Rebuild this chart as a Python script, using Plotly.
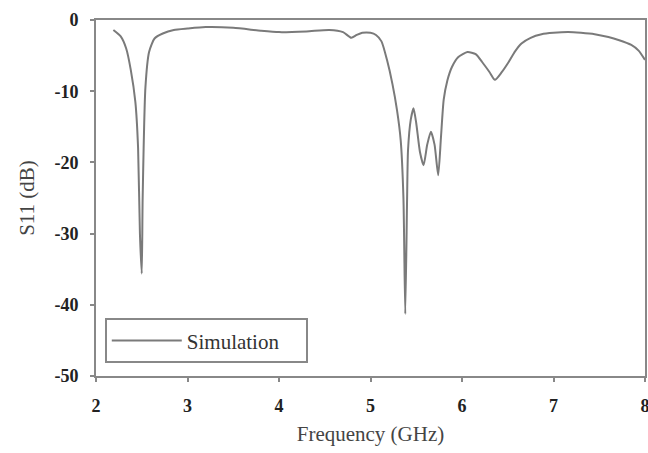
import plotly.graph_objects as go

freq_ghz = [2.19, 2.27, 2.33, 2.38, 2.43, 2.46, 2.48, 2.50, 2.51, 2.54, 2.58, 2.64, 2.73, 2.85,
            3.0, 3.2, 3.5, 3.8, 4.0, 4.3, 4.55, 4.70, 4.79, 4.85, 4.91, 5.0, 5.06, 5.12,
            5.18, 5.24, 5.29, 5.33, 5.36, 5.38, 5.40, 5.41, 5.44, 5.47, 5.50, 5.54, 5.58,
            5.62, 5.66, 5.70, 5.74, 5.77, 5.80, 5.84, 5.89, 5.96, 6.06, 6.15, 6.22, 6.30,
            6.36, 6.43, 6.51, 6.58, 6.65, 6.75, 6.87, 7.0, 7.16, 7.30, 7.45, 7.60, 7.71,
            7.85, 7.93, 8.0]
s11_db = [-1.4, -2.3, -4.0, -7.0, -11.5, -18.0, -30.0, -35.6, -25.0, -9.5, -4.5, -2.6, -1.9, -1.4,
          -1.2, -1.0, -1.1, -1.5, -1.7, -1.6, -1.4, -1.7, -2.5, -2.1, -1.8, -1.8, -2.1, -3.0,
          -5.6, -9.0, -12.7, -16.9, -25.0, -41.3, -25.0, -18.3, -14.0, -12.4, -14.5, -18.5, -20.4,
          -17.5, -15.7, -17.5, -21.8, -16.5, -11.2, -8.5, -6.6, -5.2, -4.5, -4.8, -5.9, -7.3,
          -8.4, -7.4, -5.9, -4.4, -3.3, -2.5, -2.0, -1.8, -1.7, -1.8, -2.0, -2.4, -2.8,
          -3.5, -4.3, -5.6]

x_tick_vals = [2, 3, 4, 5, 6, 7, 8]
x_tick_text = ["2", "3", "4", "5", "6", "7", "8"]
y_tick_vals = [0, -10, -20, -30, -40, -50]
y_tick_text = ["0", "-10", "-20", "-30", "-40", "-50"]

serif = "Liberation Serif, Times New Roman, serif"

fig = go.Figure()
fig.add_trace(go.Scatter(
    x=freq_ghz, y=s11_db, mode="lines", name="Simulation",
    line=dict(color="#7a7a7a", width=2, shape="spline", smoothing=0.6),
))

fig.update_layout(
    width=648, height=453,
    margin=dict(l=96, r=1, t=20, b=77),
    paper_bgcolor="white", plot_bgcolor="white",
    font=dict(family=serif, color="#333333"),
    hovermode=False,
    showlegend=True,
    legend=dict(
        x=0.016, y=0.162, xanchor="left", yanchor="top",
        orientation="h",
        bordercolor="#888888", borderwidth=2, bgcolor="white",
        font=dict(family=serif, size=21, color="#333333"),
        itemwidth=70,
        entrywidth=114, entrywidthmode="pixels",
    ),
)
fig.update_xaxes(
    range=[2, 8], tickvals=x_tick_vals, ticktext=x_tick_text,
    showgrid=False, zeroline=False, automargin="height",
    showline=True, linecolor="#888888", linewidth=2, mirror=True,
    ticks="outside", ticklen=4, tickwidth=1.5, tickcolor="#888888",
    ticklabelstandoff=8, ticklabeloverflow="allow",
    tickfont=dict(family=serif, size=18, color="#222222", weight="bold"),
    title=dict(text="Frequency (GHz)", font=dict(family=serif, size=21, color="#444444"), standoff=12),
)
fig.update_yaxes(
    range=[-50, 0], tickvals=y_tick_vals, ticktext=y_tick_text,
    showgrid=False, zeroline=False, automargin="width",
    showline=True, linecolor="#888888", linewidth=2, mirror=True,
    ticks="outside", ticklen=4, tickwidth=1.5, tickcolor="#888888",
    ticklabelstandoff=8,
    tickfont=dict(family=serif, size=18, color="#222222", weight="bold"),
    title=dict(text="S11 (dB)", font=dict(family=serif, size=21, color="#444444"), standoff=14),
)

fig.write_html("out.html")
